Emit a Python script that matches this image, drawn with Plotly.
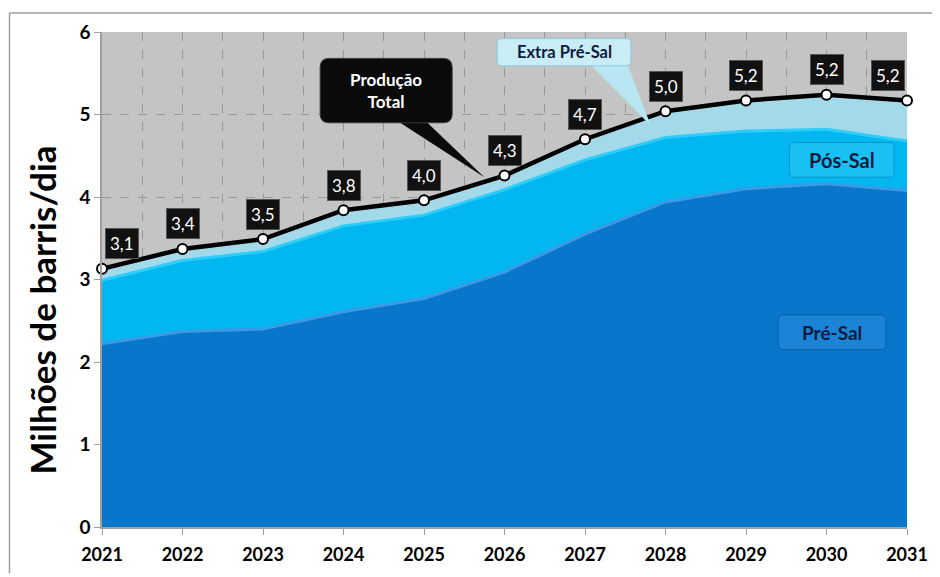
import plotly.graph_objects as go

years = [2021, 2022, 2023, 2024, 2025, 2026, 2027, 2028, 2029, 2030, 2031]
pre_sal = [2.22, 2.37, 2.40, 2.61, 2.77, 3.09, 3.55, 3.94, 4.10, 4.16, 4.08]
pos_sal = [0.77, 0.86, 0.94, 1.04, 1.01, 1.00, 0.90, 0.78, 0.70, 0.66, 0.60]
extra_pre_sal = [0.14, 0.14, 0.15, 0.19, 0.18, 0.17, 0.25, 0.32, 0.37, 0.42, 0.49]
total = [3.13, 3.37, 3.49, 3.84, 3.96, 4.26, 4.70, 5.04, 5.17, 5.24, 5.17]
total_labels = ["3,1", "3,4", "3,5", "3,8", "4,0", "4,3", "4,7", "5,0", "5,2", "5,2", "5,2"]
y_ticks = [0, 1, 2, 3, 4, 5, 6]

FONT = "Lato"
OFF = 8  # default page body margin
W, H = 940 - OFF, 577 - OFF
ML, MR, MT, MB = 102 - OFF, 27, 28 - OFF, 47
XS = (W - ML - MR) / (years[-1] - years[0])
YS = (H - MT - MB) / 6.0

fig = go.Figure()
fig.add_trace(go.Scatter(x=years, y=pre_sal, stackgroup="s", mode="lines",
                         line=dict(color="#3a9ae6", width=3), fillcolor="#0877cb",
                         name="Pré-Sal", hoverinfo="skip"))
fig.add_trace(go.Scatter(x=years, y=pos_sal, stackgroup="s", mode="lines",
                         line=dict(color="#2ccdfb", width=3), fillcolor="#02b7ef",
                         name="Pós-Sal", hoverinfo="skip"))
fig.add_trace(go.Scatter(x=years, y=extra_pre_sal, stackgroup="s", mode="lines",
                         line=dict(color="#b4e4f1", width=2), fillcolor="#a3d9e8",
                         name="Extra Pré-Sal", hoverinfo="skip"))
fig.add_trace(go.Scatter(x=years, y=total, mode="lines+markers", cliponaxis=False,
                         line=dict(color="#000000", width=4.5),
                         marker=dict(color="white", size=10, line=dict(color="black", width=2)),
                         name="Produção Total"))

annotations = []
for i, (xv, yv, t) in enumerate(zip(years, total, total_labels)):
    xs = 0
    if i == 0:
        xs = 20
    elif i == len(years) - 1:
        xs = -19
    annotations.append(dict(x=xv, y=yv, text=t, showarrow=False, xshift=xs, yshift=25,
                            font=dict(family=FONT, size=17, color="white"),
                            bgcolor="#111111", bordercolor="#555555", borderwidth=1,
                            borderpad=4))


def rrect(x0, x1, y0, y1, rpx):
    rx = rpx / XS
    ry = rpx / YS
    return (f"M {x0+rx},{y1} L {x1-rx},{y1} Q {x1},{y1} {x1},{y1-ry} "
            f"L {x1},{y0+ry} Q {x1},{y0} {x1-rx},{y0} L {x0+rx},{y0} "
            f"Q {x0},{y0} {x0},{y0+ry} L {x0},{y1-ry} Q {x0},{y1} {x0+rx},{y1} Z")


shapes = []
# Produção Total callout
shapes.append(dict(type="path", xref="x", yref="y", layer="above",
                   path="M 2024.67,4.92 L 2025.02,4.92 L 2025.75,4.24 Z",
                   fillcolor="#0a0a0a", line=dict(width=0)))
shapes.append(dict(type="path", xref="x", yref="y", layer="above",
                   path=rrect(2023.71, 2025.35, 4.90, 5.68, 9),
                   fillcolor="#0a0a0a", line=dict(color="#3a3a3a", width=1)))
# Extra Pré-Sal callout
shapes.append(dict(type="path", xref="x", yref="y", layer="above",
                   path="M 2027.05,5.62 L 2027.52,5.62 L 2027.82,4.86 Z",
                   fillcolor="#b8e6f2", line=dict(width=0)))
shapes.append(dict(type="path", xref="x", yref="y", layer="above",
                   path=rrect(2025.91, 2027.57, 5.59, 5.92, 5),
                   fillcolor="#c8edf7", line=dict(color="#8ccbe0", width=1)))
# Pós-Sal box
shapes.append(dict(type="path", xref="x", yref="y", layer="above",
                   path=rrect(2029.54, 2030.84, 4.24, 4.66, 5),
                   fillcolor="#18c0f4", line=dict(color="#0a94c4", width=1)))
# Pré-Sal box
shapes.append(dict(type="path", xref="x", yref="y", layer="above",
                   path=rrect(2029.40, 2030.74, 2.15, 2.57, 5),
                   fillcolor="#1b84d6", line=dict(color="#0b5c9e", width=1)))
# outer frame (top and left)
PW, PH = W - ML - MR, H - MT - MB
fx = (0.8 - ML) / PW
fy = (H - MB - 0.8) / PH
fyb = (H - MB - H) / PH
shapes.append(dict(type="line", xref="paper", yref="paper", x0=fx, x1=(W - ML) / PW,
                   y0=fy, y1=fy, line=dict(color="#a0a0a0", width=1.5)))
shapes.append(dict(type="line", xref="paper", yref="paper", x0=fx, x1=fx,
                   y0=fy, y1=fyb, line=dict(color="#a0a0a0", width=1.5)))

annotations += [
    dict(x=2024.53, y=5.29, text="<b>Produção<br>Total</b>", showarrow=False,
         font=dict(family=FONT, size=17, color="white"), align="center"),
    dict(x=2026.74, y=5.755, text="<b>Extra Pré-Sal</b>", showarrow=False,
         font=dict(family=FONT, size=16.5, color="#0d1b3e")),
    dict(x=2030.19, y=4.45, text="<b>Pós-Sal</b>", showarrow=False,
         font=dict(family=FONT, size=20, color="#0d1b3e")),
    dict(x=2030.07, y=2.36, text="<b>Pré-Sal</b>", showarrow=False,
         font=dict(family=FONT, size=19, color="#0d1b3e")),
    dict(xref="paper", yref="paper", x=(42 - OFF - ML) / PW, y=(H - MB - (310 - OFF)) / PH,
         xanchor="center", yanchor="middle",
         text="<b>Milhões de barris/dia</b>", textangle=-90, showarrow=False,
         font=dict(family=FONT, size=35, color="black")),
]

grid = dict(showgrid=True, gridcolor="#999999", griddash="dash", gridwidth=1)
fig.update_layout(
    width=W, height=H,
    margin=dict(l=ML, r=MR, t=MT, b=MB),
    paper_bgcolor="white", plot_bgcolor="#c4c4c4",
    showlegend=False,
    shapes=shapes, annotations=annotations,
    xaxis=dict(range=[years[0], years[-1]], tickvals=years, ticktext=[str(y) for y in years],
               ticks="outside", ticklen=6, tickcolor="#a0a0a0", ticklabelstandoff=5,
               showline=True, linecolor="#a0a0a0", linewidth=1.5,
               tickfont=dict(family=FONT, size=18, color="black", weight="bold"),
               minor=dict(dtick=0.5, tick0=2021, showgrid=True, gridcolor="#999999",
                          griddash="dash", ticks=""),
               zeroline=False, fixedrange=True, **grid),
    yaxis=dict(range=[0, 6], tickvals=y_ticks, ticks="outside", ticklen=6, tickcolor="#a0a0a0",
               showline=True, linecolor="#a0a0a0", linewidth=1.5,
               tickfont=dict(family=FONT, size=19, color="black", weight="bold"),
               zeroline=False, fixedrange=True, **grid),
)

fig.write_html("out.html")
